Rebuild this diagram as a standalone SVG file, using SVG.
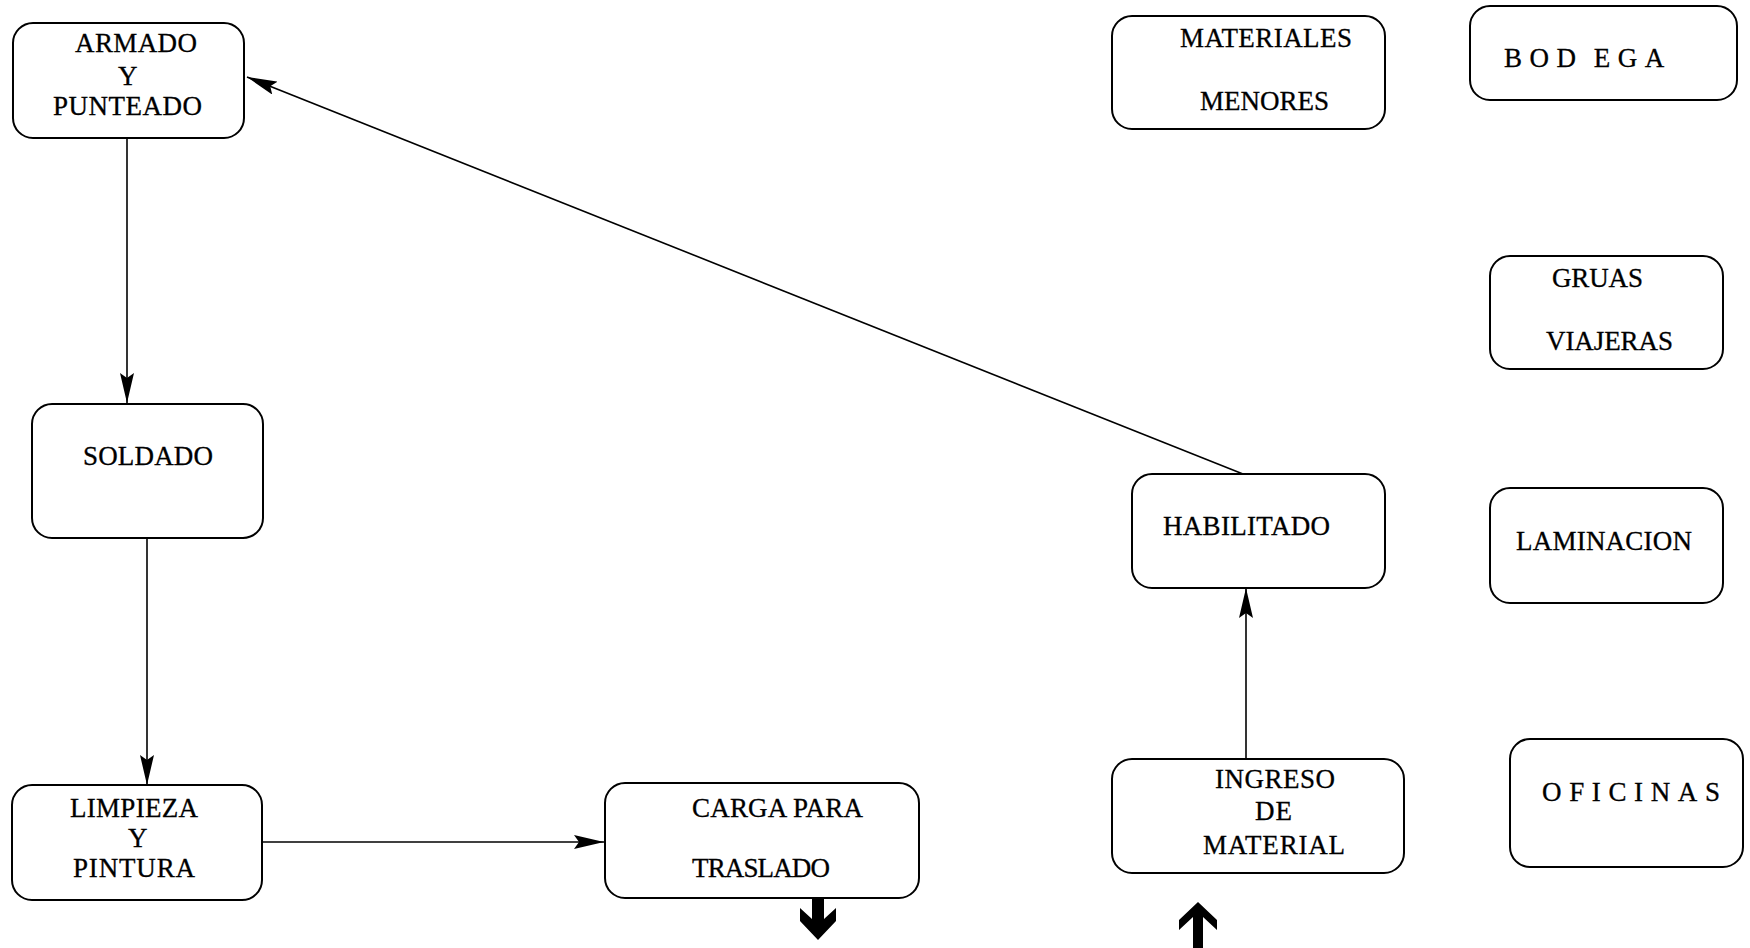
<svg xmlns="http://www.w3.org/2000/svg" width="1750" height="948" viewBox="0 0 1750 948">
<style>
.box{fill:#fff;stroke:#000;stroke-width:2}
.t{font-family:"Liberation Serif","Times New Roman",serif;font-size:27px;fill:#000;stroke:#000;stroke-width:0.3}
.c{stroke:#000;stroke-width:1.6;fill:none}
</style>
<defs>
<marker id="ah" markerUnits="userSpaceOnUse" markerWidth="30" markerHeight="14" refX="30" refY="7" orient="auto">
<path d="M0,0 L30,7 L0,14 L5,7 z" fill="#000"/>
</marker>
</defs>
<rect width="1750" height="948" fill="#fff"/>
<g id="connectors">
<line class="c" x1="127" y1="138" x2="127" y2="403" marker-end="url(#ah)"/>
<line class="c" x1="147" y1="538" x2="147" y2="785" marker-end="url(#ah)"/>
<line class="c" x1="262" y1="842" x2="604" y2="842" marker-end="url(#ah)"/>
<line class="c" x1="1246" y1="759" x2="1246" y2="588" marker-end="url(#ah)"/>
<line class="c" x1="1243" y1="474" x2="247" y2="77" marker-end="url(#ah)"/>
<polygon id="out-arrow" points="812,897 824,897 824,919 836,908 836,921 818,940 800,921 800,908 812,919" fill="#000"/>
<polygon id="in-arrow" points="1198,902 1217,920 1217,930 1203,917 1203,948 1193,948 1193,917 1179,930 1179,920" fill="#000"/>
</g>
<g id="armado">
<rect class="box" x="13" y="23" width="231" height="115" rx="20"/>
<text class="t" x="75" y="52" textLength="122">ARMADO</text>
<text class="t" x="118" y="85" textLength="19">Y</text>
<text class="t" x="53" y="115" textLength="149">PUNTEADO</text>
</g>
<g id="soldado">
<rect class="box" x="32" y="404" width="231" height="134" rx="20"/>
<text class="t" x="83" y="465" textLength="130">SOLDADO</text>
</g>
<g id="limpieza">
<rect class="box" x="12" y="785" width="250" height="115" rx="20"/>
<text class="t" x="70" y="817" textLength="128">LIMPIEZA</text>
<text class="t" x="128" y="847" textLength="18">Y</text>
<text class="t" x="73" y="877" textLength="122">PINTURA</text>
</g>
<g id="carga">
<rect class="box" x="605" y="783" width="314" height="115" rx="20"/>
<text class="t" x="692" y="817" textLength="171">CARGA PARA</text>
<text class="t" x="692" y="877" textLength="138">TRASLADO</text>
</g>
<g id="habilitado">
<rect class="box" x="1132" y="474" width="253" height="114" rx="20"/>
<text class="t" x="1163" y="535" textLength="167">HABILITADO</text>
</g>
<g id="ingreso">
<rect class="box" x="1112" y="759" width="292" height="114" rx="20"/>
<text class="t" x="1215" y="788" textLength="120">INGRESO</text>
<text class="t" x="1255" y="820" textLength="37">DE</text>
<text class="t" x="1203" y="854" textLength="142">MATERIAL</text>
</g>
<g id="materiales">
<rect class="box" x="1112" y="16" width="273" height="113" rx="20"/>
<text class="t" x="1180" y="47" textLength="172">MATERIALES</text>
<text class="t" x="1200" y="110" textLength="129">MENORES</text>
</g>
<g id="bodega">
<rect class="box" x="1470" y="6" width="267" height="94" rx="20"/>
<text class="t" x="1504" y="67" letter-spacing="7.5" word-spacing="-4">BOD EGA</text>
</g>
<g id="gruas">
<rect class="box" x="1490" y="256" width="233" height="113" rx="20"/>
<text class="t" x="1552" y="287" textLength="91">GRUAS</text>
<text class="t" x="1546" y="350" textLength="127">VIAJERAS</text>
</g>
<g id="laminacion">
<rect class="box" x="1490" y="488" width="233" height="115" rx="20"/>
<text class="t" x="1516" y="550" textLength="176">LAMINACION</text>
</g>
<g id="oficinas">
<rect class="box" x="1510" y="739" width="233" height="128" rx="20"/>
<text class="t" x="1542" y="801" textLength="178">OFICINAS</text>
</g>
</svg>
